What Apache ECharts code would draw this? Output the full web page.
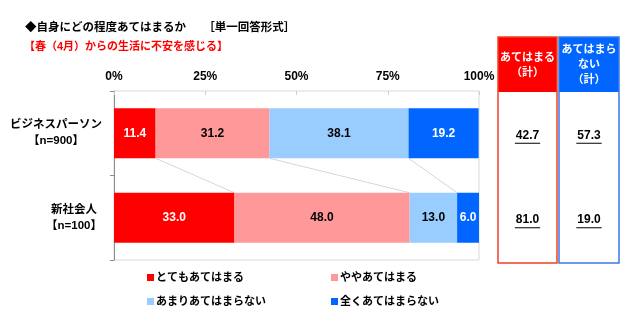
<!DOCTYPE html>
<html>
<head>
<meta charset="utf-8">
<script src="https://cdn.jsdelivr.net/npm/echarts@6/dist/echarts.min.js"></script>
<style>
  html, body { margin: 0; padding: 0; background: #fff; }
  #chart { width: 640px; height: 330px; }
</style>
</head>
<body>
<div id="chart"></div>
<script>
// Survey groups (top to bottom) and their sample sizes
const groups = ['ビジネスパーソン', '新社会人'];
const sampleSizes = ['【n=900】', '【n=100】'];

// Answer shares, %
const seriesNames = ['とてもあてはまる', 'ややあてはまる', 'あまりあてはまらない', '全くあてはまらない'];
const veryTrue = [11.4, 33.0];
const somewhatTrue = [31.2, 48.0];
const notReallyTrue = [38.1, 13.0];
const notTrueAtAll = [19.2, 6.0];

// Summary columns as published
const agreeTotal = [42.7, 81.0];
const disagreeTotal = [57.3, 19.0];

const xTicks = [0, 25, 50, 75, 100];

const FONT = "'Liberation Sans', 'Noto Sans CJK JP', sans-serif";
const COLORS = ['#ff0000', '#ff9999', '#99ccff', '#0066ff'];
const LABEL_COLORS = ['#ffffff', '#000000', '#000000', '#ffffff'];
const BAR_W = 50;

const chart = echarts.init(document.getElementById('chart'));

// measure text to centre the two-line category labels on their widest line
const ctx = document.createElement('canvas').getContext('2d');
const catFont = 'bold 11.5px ' + FONT;
function textW(s, font) { ctx.font = font; return ctx.measureText(s).width; }
const catRich = {};
groups.forEach((g, i) => {
  catRich['c' + i] = {
    width: Math.ceil(Math.max(textW(g, catFont), textW(sampleSizes[i], catFont))),
    align: 'center', fontSize: 11.5, fontWeight: 'bold', fontFamily: FONT,
    color: '#000', lineHeight: 16
  };
});

const valueSets = [veryTrue, somewhatTrue, notReallyTrue, notTrueAtAll];

// stacked segment boundaries, linked from the first bar to the second
const boundaries = [];
let c0 = 0, c1 = 0;
for (let k = 0; k < valueSets.length - 1; k++) {
  c0 += valueSets[k][0];
  c1 += valueSets[k][1];
  boundaries.push([c0, c1, 0]);
}

const barSeries = valueSets.map((vals, k) => ({
  name: seriesNames[k],
  type: 'bar',
  stack: 'total',
  barWidth: BAR_W,
  data: vals,
  itemStyle: { color: COLORS[k] },
  label: {
    show: true,
    position: 'inside',
    formatter: p => p.value.toFixed(1),
    color: LABEL_COLORS[k],
    fontFamily: FONT, fontWeight: 'bold', fontSize: 12
  },
  emphasis: { disabled: true },
  z: 3
}));

// summary table frame
const RED_BOX = { x: 498, y: 37, w: 59, h: 226 };
const BLUE_BOX = { x: 559, y: 37, w: 60, h: 226 };
const HEAD_H = 55;

const connectorSeries = {
  type: 'custom',
  silent: true,
  data: boundaries,
  encode: { x: [0, 1], y: 2 },
  z: 1,
  renderItem: (params, api) => {
    const a = api.coord([api.value(0), 0]);
    const b = api.coord([api.value(1), 1]);
    return {
      type: 'line',
      shape: { x1: a[0], y1: a[1] + BAR_W / 2, x2: b[0], y2: b[1] - BAR_W / 2 },
      style: { stroke: '#d6d6d6', lineWidth: 1 }
    };
  }
};

const summarySeries = {
  type: 'custom',
  silent: true,
  clip: false,
  data: groups.map((g, i) => [i, agreeTotal[i], disagreeTotal[i]]),
  encode: { y: 0 },
  z: 5,
  renderItem: (params, api) => {
    const y = api.coord([0, api.value(0)])[1] + 2;
    const items = [];
    [[RED_BOX, api.value(1)], [BLUE_BOX, api.value(2)]].forEach(([box, v]) => {
      const cx = box.x + box.w / 2;
      const txt = v.toFixed(1);
      const w = textW(txt, 'bold 12px ' + FONT);
      items.push({
        type: 'text',
        style: {
          text: txt, x: cx, y: y, align: 'center', verticalAlign: 'middle',
          font: 'bold 12px ' + FONT, fill: '#000'
        }
      });
      items.push({
        type: 'line',
        shape: { x1: cx - w / 2 - 1, y1: y + 8, x2: cx + w / 2 + 1, y2: y + 8 },
        style: { stroke: '#000', lineWidth: 1 }
      });
    });
    return { type: 'group', children: items };
  }
};

const legendPos = [[147, 272], [331, 272], [147, 296], [331, 296]];

chart.setOption({
  animation: false,
  title: [
    {
      text: '◆自身にどの程度あてはまるか　　［単一回答形式］',
      left: 20, top: 17,
      textStyle: { fontFamily: FONT, fontSize: 11.5, fontWeight: 'bold', color: '#000' }
    },
    {
      text: '【春（4月）からの生活に不安を感じる】',
      left: 19, top: 36,
      textStyle: { fontFamily: FONT, fontSize: 11, fontWeight: 'bold', color: '#ff0000' }
    }
  ],
  legend: seriesNames.map((n, i) => ({
    data: [n],
    left: legendPos[i][0], top: legendPos[i][1],
    icon: 'rect', itemWidth: 7, itemHeight: 7,
    selectedMode: false,
    padding: 0,
    textStyle: { fontFamily: FONT, fontSize: 11, fontWeight: 'bold', color: '#000', padding: [0, 0, 0, -3] }
  })),
  grid: {
    left: 114, top: 91, width: 365, height: 169,
    show: true, borderColor: '#d9d9d9', borderWidth: 1
  },
  xAxis: {
    type: 'value', position: 'top', min: 0, max: 100, interval: 25,
    axisLine: { show: false },
    axisTick: { show: true, inside: true, length: 4, lineStyle: { color: '#d0d0d0' } },
    splitLine: { show: false },
    axisLabel: {
      formatter: v => xTicks.includes(v) ? v + '%' : '',
      fontFamily: FONT, fontSize: 12, fontWeight: 'bold', color: '#000', margin: 8
    }
  },
  yAxis: {
    type: 'category', inverse: true, data: groups,
    axisLine: { show: true, lineStyle: { color: '#8c8c8c' } },
    axisTick: { show: true, length: 4, lineStyle: { color: '#8c8c8c' } },
    axisLabel: {
      margin: 12,
      formatter: (v, i) => `{c${i}|${v}}\n{c${i}|${sampleSizes[i]}}`,
      rich: catRich
    }
  },
  graphic: [
    { type: 'rect', shape: { x: RED_BOX.x, y: RED_BOX.y, width: RED_BOX.w, height: HEAD_H }, style: { fill: '#ff0000' } },
    { type: 'rect', shape: { x: RED_BOX.x, y: RED_BOX.y, width: RED_BOX.w, height: RED_BOX.h }, style: { fill: 'none', stroke: '#f04020', lineWidth: 1.5 } },
    { type: 'text', style: { text: 'あてはまる\n（計）', x: RED_BOX.x + RED_BOX.w / 2, y: 65, align: 'center', verticalAlign: 'middle', font: 'bold 11px ' + FONT, fill: '#fff', lineHeight: 15 } },
    { type: 'rect', shape: { x: BLUE_BOX.x, y: BLUE_BOX.y, width: BLUE_BOX.w, height: HEAD_H }, style: { fill: '#0066ff' } },
    { type: 'rect', shape: { x: BLUE_BOX.x, y: BLUE_BOX.y, width: BLUE_BOX.w, height: BLUE_BOX.h }, style: { fill: 'none', stroke: '#3a78e8', lineWidth: 1.5 } },
    { type: 'text', style: { text: 'あてはまら\nない\n（計）', x: BLUE_BOX.x + BLUE_BOX.w / 2, y: 65, align: 'center', verticalAlign: 'middle', font: 'bold 11px ' + FONT, fill: '#fff', lineHeight: 15 } }
  ],
  series: [...barSeries, connectorSeries, summarySeries]
});
</script>
</body>
</html>
